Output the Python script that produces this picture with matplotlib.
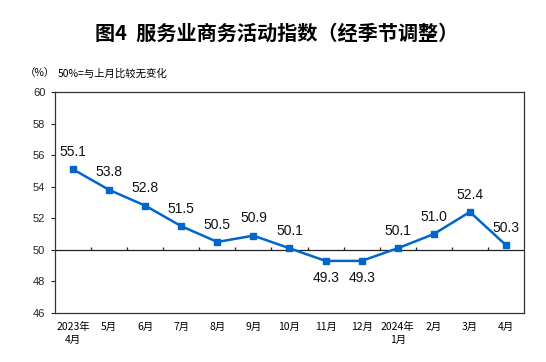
import numpy as np
import matplotlib.pyplot as plt

plt.rcParams['font.family'] = ['Liberation Sans', 'Noto Sans CJK SC', 'DejaVu Sans']

months = ['2023年\n4月', '5月', '6月', '7月', '8月', '9月', '10月', '11月', '12月',
          '2024年\n1月', '2月', '3月', '4月']
values = [55.1, 53.8, 52.8, 51.5, 50.5, 50.9, 50.1, 49.3, 49.3, 50.1, 51.0, 52.4, 50.3]
yticks = [46, 48, 50, 52, 54, 56, 58, 60]

blue = '#0066CC'
cjk = ['Noto Sans CJK SC', 'DejaVu Sans']

fig = plt.figure(figsize=(5.46, 3.62), dpi=100)
ax = fig.add_axes([0.1007, 0.1354, 0.859, 0.6105])

x = np.arange(len(values))
ax.plot(x, values, color=blue, lw=1.8, marker='s', ms=4.5, zorder=3)

# 50 reference line with small ticks between months
ax.axhline(50, color='#222222', lw=0.9, zorder=2)
ax.vlines(x[:-1] + 0.5, 50, 50.18, color='#222222', lw=0.9, zorder=2)

for xi, v in zip(x, values):
    if v < 50:
        ax.annotate(f'{v:.1f}', (xi, v), xytext=(0, -12), textcoords='offset points',
                    ha='center', va='center', fontsize=10, color='#111111')
    else:
        ax.annotate(f'{v:.1f}', (xi, v), xytext=(0, 12.5), textcoords='offset points',
                    ha='center', va='center', fontsize=10, color='#111111')

ax.set_xlim(-0.5, len(values) - 0.5)
ax.set_ylim(46, 60)
ax.set_yticks(yticks)
ax.set_xticks(x)
ax.set_xticklabels(months, fontsize=7.5, family=cjk, linespacing=1.3)
ax.tick_params(axis='x', length=0, pad=6.5)
ax.tick_params(axis='y', length=3, width=0.8, pad=4, labelsize=8, colors='#222222')

for s in ax.spines.values():
    s.set_color('#333333')
    s.set_linewidth(0.9)

fig.text(0.506, 0.909, '图4  服务业商务活动指数（经季节调整）', ha='center', va='center',
         fontsize=14.5, fontweight='bold', family=cjk)
fig.text(0.045, 0.798, '（%）', ha='left', va='center', fontsize=7.5, family=cjk)
fig.text(0.106, 0.798, '50%=与上月比较无变化', ha='left', va='center', fontsize=7.5, family=cjk)

fig.savefig('out.png', dpi=100)
